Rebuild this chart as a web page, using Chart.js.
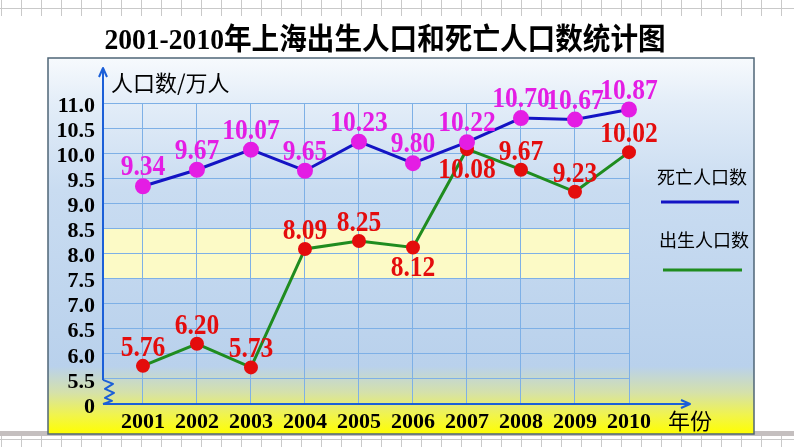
<!DOCTYPE html>
<html><head><meta charset="utf-8">
<script src="https://cdn.jsdelivr.net/npm/chart.js@4.4.0/dist/chart.umd.min.js"></script>
<style>html,body{margin:0;padding:0;background:#fff;overflow:hidden}#wrap{width:794px;height:447px;position:relative}canvas{display:block}</style>
</head><body><div id="wrap"><canvas id="c" width="794" height="447"></canvas></div>
<script>
// ---- data ----
const years = [2001, 2002, 2003, 2004, 2005, 2006, 2007, 2008, 2009, 2010];
const deathValues = [9.34, 9.67, 10.07, 9.65, 10.23, 9.80, 10.22, 10.70, 10.67, 10.87];
const birthValues = [5.76, 6.20, 5.73, 8.09, 8.25, 8.12, 10.08, 9.67, 9.23, 10.02];
const yTickValues = [5.0, 5.5, 6.0, 6.5, 7.0, 7.5, 8.0, 8.5, 9.0, 9.5, 10.0, 10.5, 11.0];
const yTickLabels = ['0', '5.5', '6.0', '6.5', '7.0', '7.5', '8.0', '8.5', '9.0', '9.5', '10.0', '10.5', '11.0'];
const birthLabelBelow = [false, false, false, false, false, true, true, false, false, false];
const titleText = '2001-2010年上海出生人口和死亡人口数统计图';
const yAxisTitle = '人口数/万人';
const xAxisTitle = '年份';
const deathName = '死亡人口数';
const birthName = '出生人口数';

const SERIF = '"Liberation Serif", "Times New Roman", serif';
const CJK = '"Noto Sans CJK SC", sans-serif';

function stretchedText(ctx, text, x, y, sx) {
  ctx.save();
  ctx.translate(x, y);
  ctx.scale(sx, 1);
  ctx.fillText(text, 0, 0);
  ctx.restore();
}

const decor = {
  id: 'decor',
  beforeDraw(chart) {
    const ctx = chart.ctx, W = chart.width, H = chart.height;
    const ca = chart.chartArea, ys = chart.scales.y;
    ctx.save();
    ctx.fillStyle = '#ffffff';
    ctx.fillRect(0, 0, W, H);
    // page grid pattern top & bottom
    ctx.strokeStyle = '#c9c9c9';
    ctx.lineWidth = 1;
    ctx.beginPath();
    for (let x = 1; x < W; x += 20) {
      ctx.moveTo(x + 0.5, 0); ctx.lineTo(x + 0.5, 16);
      ctx.moveTo(x + 0.5, 436); ctx.lineTo(x + 0.5, H);
    }
    ctx.moveTo(0, 8.5); ctx.lineTo(W, 8.5);
    ctx.moveTo(0, 439.5); ctx.lineTo(W, 439.5);
    ctx.stroke();
    ctx.fillStyle = '#c4bfbf';
    ctx.fillRect(0, 431, W, 5);
    // panel
    const px = 48, py = 58, pw = 754 - 48, ph = 434 - 58;
    const g = ctx.createLinearGradient(0, py, 0, py + ph);
    g.addColorStop(0, '#f7fafd');
    g.addColorStop(0.12, '#e3edf8');
    g.addColorStop(0.35, '#c9dcf1');
    g.addColorStop(0.82, '#b9d1ec');
    g.addColorStop(0.89, '#d5e1aa');
    g.addColorStop(0.95, '#f1f44c');
    g.addColorStop(1, '#ffff00');
    ctx.fillStyle = g;
    ctx.fillRect(px, py, pw, ph);
    ctx.strokeStyle = '#4f6677';
    ctx.lineWidth = 1.5;
    ctx.strokeRect(px, py, pw, ph);
    // yellow band 7.5 - 8.5
    const b1 = ys.getPixelForValue(8.5), b2 = ys.getPixelForValue(7.5);
    ctx.fillStyle = '#fcfac6';
    ctx.fillRect(ca.left, b1, ca.right - ca.left, b2 - b1);
    // title
    ctx.fillStyle = '#000';
    ctx.font = 'bold 30px "Liberation Serif", ' + CJK;
    ctx.textAlign = 'center';
    ctx.textBaseline = 'middle';
    stretchedText(ctx, titleText, 385, 41, 0.92);
    ctx.restore();
  },
  beforeDatasetsDraw(chart) {
    const ctx = chart.ctx, ca = chart.chartArea, ys = chart.scales.y;
    const x0 = ca.left, yb = ca.bottom, y55 = ys.getPixelForValue(5.5) + 1;
    ctx.save();
    ctx.strokeStyle = '#1b5fd8';
    ctx.lineWidth = 2;
    ctx.lineJoin = 'round';
    ctx.beginPath();
    ctx.moveTo(x0, y55); ctx.lineTo(x0, 69);
    ctx.moveTo(x0 - 4, 77); ctx.lineTo(x0, 68); ctx.lineTo(x0 + 4, 77);
    // zigzag break
    ctx.moveTo(x0, y55);
    ctx.lineTo(x0 + 10, y55 + 4);
    ctx.lineTo(x0 + 2, y55 + 9);
    ctx.lineTo(x0 + 11, y55 + 13);
    ctx.lineTo(x0 + 2, y55 + 18);
    ctx.lineTo(x0 + 9, y55 + 21);
    ctx.lineTo(x0, yb);
    // x axis
    ctx.moveTo(x0, yb); ctx.lineTo(689, yb);
    ctx.moveTo(681, yb - 4); ctx.lineTo(690, yb); ctx.lineTo(681, yb + 4);
    ctx.stroke();
    ctx.restore();
  },
  afterDatasetsDraw(chart) {
    const ctx = chart.ctx;
    ctx.save();
    ctx.font = 'bold 29px ' + SERIF;
    ctx.textAlign = 'center';
    ctx.textBaseline = 'alphabetic';
    const dm = chart.getDatasetMeta(0), bm = chart.getDatasetMeta(1);
    ctx.fillStyle = '#e41de4';
    dm.data.forEach((p, i) => {
      stretchedText(ctx, deathValues[i].toFixed(2), p.x, p.y - 11, 0.88);
    });
    ctx.fillStyle = '#e40d0d';
    bm.data.forEach((p, i) => {
      stretchedText(ctx, birthValues[i].toFixed(2), p.x, birthLabelBelow[i] ? p.y + 29 : p.y - 10, 0.88);
    });
    // axis titles
    ctx.fillStyle = '#000';
    ctx.font = '22px ' + CJK;
    ctx.textAlign = 'left';
    ctx.textBaseline = 'middle';
    ctx.fillText(yAxisTitle, 111, 83);
    ctx.fillText(xAxisTitle, 668, 421);
    // legend
    ctx.font = '18px ' + CJK;
    ctx.fillText(deathName, 657, 177);
    ctx.fillText(birthName, 659, 240);
    ctx.lineWidth = 3;
    ctx.strokeStyle = '#1414c4';
    ctx.beginPath(); ctx.moveTo(661, 202); ctx.lineTo(739, 202); ctx.stroke();
    ctx.strokeStyle = '#1f8c1f';
    ctx.beginPath(); ctx.moveTo(663, 270); ctx.lineTo(742, 270); ctx.stroke();
    ctx.restore();
  }
};

new Chart(document.getElementById('c'), {
  type: 'line',
  data: {
    datasets: [
      {
        label: deathName,
        data: years.map((y, i) => ({ x: y, y: deathValues[i] })),
        borderColor: '#1414c4',
        borderWidth: 3,
        pointBackgroundColor: '#e41de4',
        pointBorderColor: '#e41de4',
        pointRadius: 6.5,
        tension: 0,
        clip: false
      },
      {
        label: birthName,
        data: years.map((y, i) => ({ x: y, y: birthValues[i] })),
        borderColor: '#1f8c1f',
        borderWidth: 3,
        pointBackgroundColor: '#e40d0d',
        pointBorderColor: '#e40d0d',
        pointRadius: 5.5,
        tension: 0,
        clip: false
      }
    ]
  },
  options: {
    responsive: false,
    animation: false,
    devicePixelRatio: 1,
    layout: { padding: { left: 48, right: 165, top: 103, bottom: 0 } },
    plugins: { legend: { display: false }, tooltip: { enabled: false } },
    scales: {
      x: {
        type: 'linear',
        min: 2000.26,
        max: 2010,
        afterBuildTicks: (s) => { s.ticks = years.map(v => ({ value: v })); },
        afterFit: (s) => { s.height = 43; },
        border: { display: false },
        grid: { color: '#7eb0e6', lineWidth: 1, drawTicks: false },
        ticks: {
          padding: 5,
          autoSkip: false,
          maxRotation: 0,
          color: '#000',
          font: { family: SERIF, size: 22, weight: 'bold' },
          callback: (v) => String(v)
        }
      },
      y: {
        type: 'linear',
        min: 5.0,
        max: 11.0,
        afterBuildTicks: (s) => { s.ticks = yTickValues.map(v => ({ value: v })); },
        afterFit: (s) => { s.width = 55; },
        border: { display: false },
        grid: { color: '#7eb0e6', lineWidth: 1, drawTicks: false },
        ticks: {
          padding: 8,
          labelOffset: 3,
          autoSkip: false,
          color: '#000',
          font: { family: SERIF, size: 22, weight: 'bold' },
          callback: (v) => { const i = yTickValues.indexOf(v); return i >= 0 ? yTickLabels[i] : ''; }
        }
      }
    }
  },
  plugins: [decor]
});
</script>
</body></html>
